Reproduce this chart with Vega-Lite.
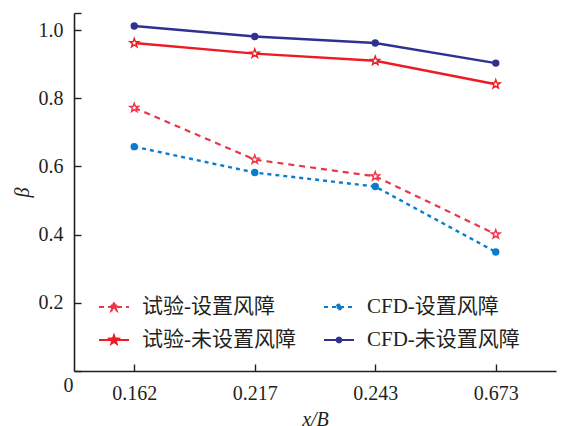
{
  "$schema": "https://vega.github.io/schema/vega-lite/v6.json",
  "width": 482,
  "height": 358,
  "autosize": "none",
  "padding": {"left": 74, "top": 13, "right": 9, "bottom": 55},
  "background": "white",
  "config": {
    "view": {"stroke": null},
    "axis": {
      "labelFont": "Liberation Serif",
      "labelFontSize": 20,
      "labelColor": "#231f20",
      "domainColor": "#231f20",
      "domainWidth": 1.6,
      "tickColor": "#231f20",
      "tickWidth": 1.4,
      "tickSize": -7,
      "grid": false,
      "titleFont": "Liberation Serif",
      "titleFontStyle": "italic",
      "titleFontWeight": "normal",
      "titleFontSize": 20,
      "titleColor": "#231f20"
    }
  },
  "data": {
    "values": [
      {"xb": "0.162", "series": "试验-设置风障", "beta": 0.772},
      {"xb": "0.217", "series": "试验-设置风障", "beta": 0.620},
      {"xb": "0.243", "series": "试验-设置风障", "beta": 0.571},
      {"xb": "0.673", "series": "试验-设置风障", "beta": 0.401},
      {"xb": "0.162", "series": "CFD-设置风障", "beta": 0.658},
      {"xb": "0.217", "series": "CFD-设置风障", "beta": 0.582},
      {"xb": "0.243", "series": "CFD-设置风障", "beta": 0.541},
      {"xb": "0.673", "series": "CFD-设置风障", "beta": 0.349},
      {"xb": "0.162", "series": "试验-未设置风障", "beta": 0.962},
      {"xb": "0.217", "series": "试验-未设置风障", "beta": 0.931},
      {"xb": "0.243", "series": "试验-未设置风障", "beta": 0.910},
      {"xb": "0.673", "series": "试验-未设置风障", "beta": 0.841},
      {"xb": "0.162", "series": "CFD-未设置风障", "beta": 1.012},
      {"xb": "0.217", "series": "CFD-未设置风障", "beta": 0.981},
      {"xb": "0.243", "series": "CFD-未设置风障", "beta": 0.962},
      {"xb": "0.673", "series": "CFD-未设置风障", "beta": 0.903}
    ]
  },
  "encoding": {
    "x": {
      "field": "xb",
      "type": "ordinal",
      "scale": {"type": "point", "padding": 0.5},
      "axis": {"title": "x/B", "labelAngle": 0, "labelPadding": 19, "titlePadding": 6}
    },
    "y": {
      "field": "beta",
      "type": "quantitative",
      "scale": {"domain": [0, 1.05], "nice": false},
      "axis": {
        "title": "β",
        "values": [0, 0.2, 0.4, 0.6, 0.8, 1.0, 1.05],
        "labelExpr": "datum.value > 1.01 ? '' : (datum.value === 0 ? '0' : format(datum.value, '.1f'))",
        "labelAlign": {"expr": "datum.value === 0 ? 'left' : 'right'"},
        "labelOffset": {"expr": "datum.value === 0 ? 14 : 0"},
        "labelPadding": 18,
        "titlePadding": 6
      }
    },
    "color": {
      "field": "series",
      "type": "nominal",
      "scale": {
        "domain": ["试验-设置风障", "试验-未设置风障", "CFD-设置风障", "CFD-未设置风障"],
        "range": ["#ee3449", "#ed1c24", "#0a7ccc", "#2e3192"]
      },
      "legend": {
        "title": null,
        "orient": "none",
        "legendX": 24,
        "legendY": 278,
        "columns": 2,
        "columnPadding": 24,
        "rowPadding": 7,
        "symbolSize": 900,
        "labelOffset": 12,
        "labelFont": "Liberation Serif, Noto Sans CJK SC",
        "labelFontSize": 21,
        "labelColor": "#231f20",
        "encode": {
          "symbols": {
            "update": {
              "shape": {"signal": "indexof(datum.value, 'CFD') === 0 ? 'M-1,0L1,0M0.16,0A0.16,0.16 0 1,1 -0.16,0A0.16,0.16 0 1,1 0.16,0Z' : 'M-1,0L1,0M0,-0.3L0.0705,-0.0971L0.285,-0.0927L0.114,0.0371L0.176,0.243L0,0.12L-0.176,0.243L-0.114,0.0371L-0.285,-0.0927L-0.0705,-0.0971Z'"},
              "stroke": {"signal": "scale('color', datum.value)"},
              "fill": {"signal": "indexof(datum.value, 'CFD') === 0 ? scale('color', datum.value) : 'white'"},
              "fillOpacity": {"value": 1},
              "strokeWidth": {"value": 2},
              "strokeDash": {"signal": "indexof(datum.value, '未') >= 0 ? [1, 0] : (indexof(datum.value, 'CFD') === 0 ? [4, 4] : [5, 4])"},
              "opacity": {"value": 1}
            }
          }
        }
      }
    }
  },
  "layer": [
    {
      "transform": [{"filter": "indexof(datum.series, '未') >= 0"}],
      "mark": {"type": "line", "strokeWidth": 2.4},
      "encoding": {}
    },
    {
      "transform": [{"filter": "datum.series === '试验-设置风障'"}],
      "mark": {"type": "line", "strokeWidth": 2.2, "strokeDash": [6, 5]},
      "encoding": {}
    },
    {
      "transform": [{"filter": "datum.series === 'CFD-设置风障'"}],
      "mark": {"type": "line", "strokeWidth": 2.4, "strokeDash": [4, 4]},
      "encoding": {}
    },
    {
      "transform": [{"filter": "indexof(datum.series, 'CFD') === 0"}],
      "mark": {"type": "point", "filled": true, "opacity": 1, "size": 55, "shape": "circle"},
      "encoding": {}
    },
    {
      "transform": [{"filter": "indexof(datum.series, 'CFD') < 0"}],
      "mark": {"type": "point", "filled": false, "fill": "white", "opacity": 1, "size": 85, "shape": "M0,-1L0.235,-0.324L0.951,-0.309L0.38,0.124L0.588,0.809L0,0.4L-0.588,0.809L-0.38,0.124L-0.951,-0.309L-0.235,-0.324Z", "strokeWidth": 1.4},
      "encoding": {}
    }
  ]
}
